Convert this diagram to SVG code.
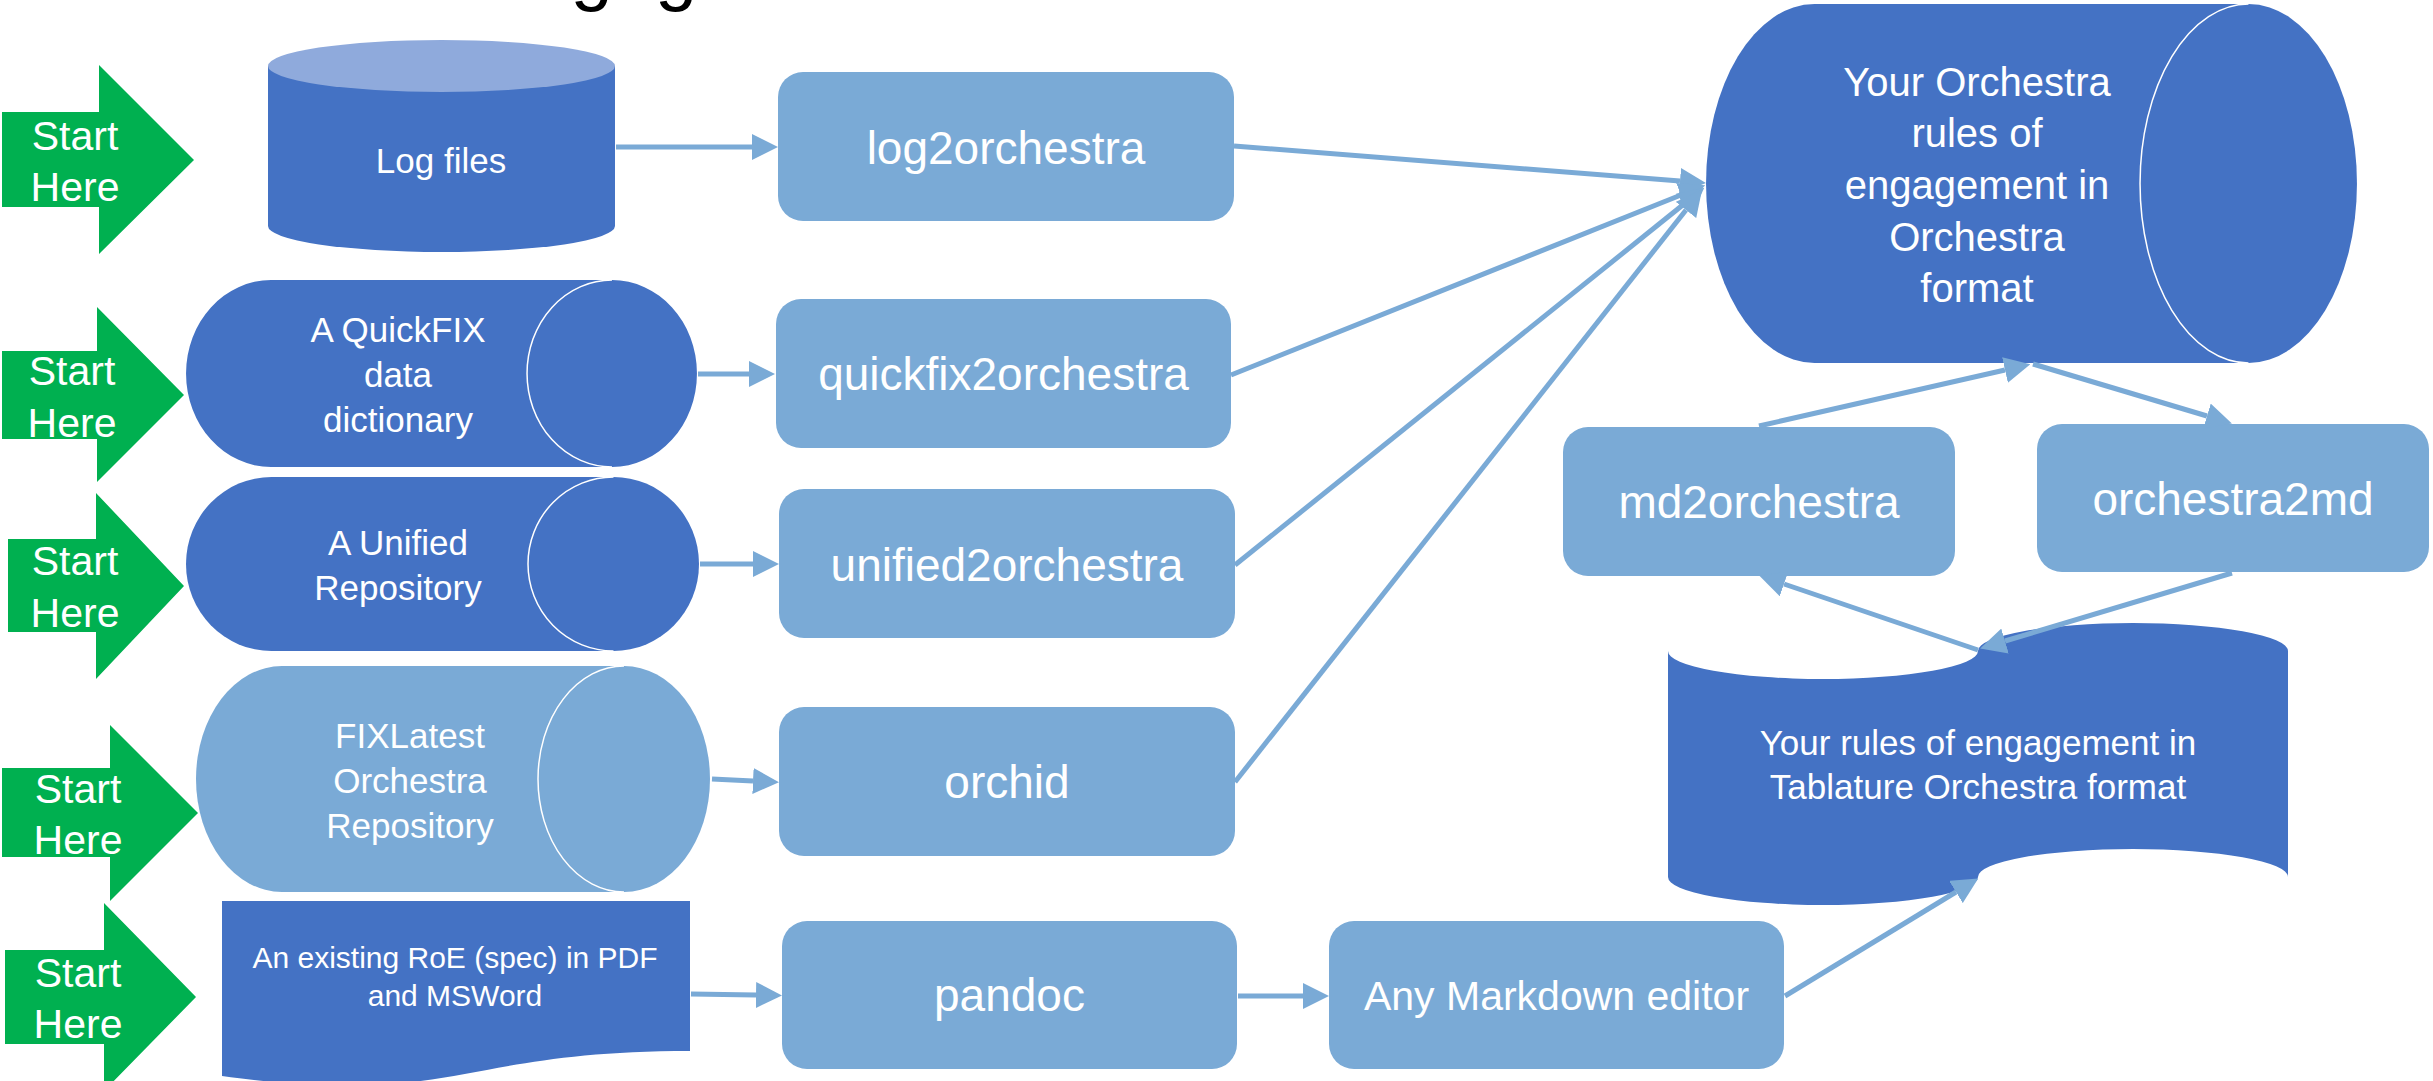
<svg xmlns="http://www.w3.org/2000/svg" width="2433" height="1081" viewBox="0 0 2433 1081">
<style>
.bg{fill:#ffffff}
.start{fill:#00B050}
.dark{fill:#4472C4}
.light{fill:#7AAAD6}
.topcap{fill:#8FAADC}
.face{fill:none;stroke:#ffffff;stroke-width:1.5}
.t{font-family:"Liberation Sans",Arial,Helvetica,sans-serif;fill:#ffffff;text-anchor:middle}
.st{font-size:41px}
.s35{font-size:35px}
.s30{font-size:30px}
.s40{font-size:40px}
.s46{font-size:46px}
.s41{font-size:41px}
.title{font-family:"Liberation Sans",Arial,Helvetica,sans-serif;font-size:76px;fill:#000000}
.conn{fill:none;stroke:#7AAAD6;stroke-width:5;stroke-linecap:butt}
</style>
<defs>
<marker id="ah" markerUnits="userSpaceOnUse" markerWidth="26" markerHeight="26" refX="0" refY="13" orient="auto">
<path d="M0,0 L26,13 L0,26 Z" fill="#7AAAD6"/>
</marker>
</defs>
<rect class="bg" x="0" y="0" width="2433" height="1081"/>
<text class="title" x="486" y="-4">engagement</text>

<g id="start1"><polygon class="start" points="2,112 99,112 99,65 194,160 99,254 99,207 2,207"/><text class="t st" x="75" y="150">Start</text><text class="t st" x="75" y="201">Here</text></g>
<g id="start2"><polygon class="start" points="2,351 97,351 97,307 184,395 97,482 97,439 2,439"/><text class="t st" x="72" y="385">Start</text><text class="t st" x="72" y="437">Here</text></g>
<g id="start3"><polygon class="start" points="8,539 96,539 96,493 184,586 96,679 96,632 8,632"/><text class="t st" x="75" y="575">Start</text><text class="t st" x="75" y="627">Here</text></g>
<g id="start4"><polygon class="start" points="2,768 110,768 110,725 198,813 110,901 110,857 2,857"/><text class="t st" x="78" y="803">Start</text><text class="t st" x="78" y="854">Here</text></g>
<g id="start5"><polygon class="start" points="5,950 104,950 104,903 196,997 104,1091 104,1044 5,1044"/><text class="t st" x="78" y="987">Start</text><text class="t st" x="78" y="1038">Here</text></g>

<g id="logfiles">
<path class="dark" d="M268,66 V226 A173.5,26 0 0 0 615,226 V66 Z"/>
<ellipse class="topcap" cx="441.5" cy="66" rx="173.5" ry="26"/>
<text class="t s35" x="441" y="173">Log files</text>
</g>

<g id="quickfix">
<path class="dark" d="M271,280 H612 A85,93.5 0 0 1 612,467 H271 A85,93.5 0 0 1 271,280 Z"/>
<path class="face" d="M612,280 A85,93.5 0 0 0 612,467"/>
<text class="t s35" x="398" y="342">A QuickFIX</text>
<text class="t s35" x="398" y="387">data</text>
<text class="t s35" x="398" y="432">dictionary</text>
</g>

<g id="unified">
<path class="dark" d="M271.5,477 H613.5 A85.5,87 0 0 1 613.5,651 H271.5 A85.5,87 0 0 1 271.5,477 Z"/>
<path class="face" d="M613.5,477 A85.5,87 0 0 0 613.5,651"/>
<text class="t s35" x="398" y="555">A Unified</text>
<text class="t s35" x="398" y="600">Repository</text>
</g>

<g id="fixlatest">
<path class="light" d="M282,666 H624 A86,113 0 0 1 624,892 H282 A86,113 0 0 1 282,666 Z"/>
<path class="face" d="M624,666 A86,113 0 0 0 624,892"/>
<text class="t s35" x="410" y="748">FIXLatest</text>
<text class="t s35" x="410" y="793">Orchestra</text>
<text class="t s35" x="410" y="838">Repository</text>
</g>

<g id="existingroe">
<path class="dark" d="M222,901 H690 V1051 C456,1051 456,1108 222,1076 Z"/>
<text class="t s30" x="455" y="968">An existing RoE (spec) in PDF</text>
<text class="t s30" x="455" y="1006">and MSWord</text>
</g>

<g id="log2orchestra"><rect class="light" x="778" y="72" width="456" height="149" rx="25" ry="25"/><text class="t s46" x="1006" y="164">log2orchestra</text></g>
<g id="quickfix2orchestra"><rect class="light" x="776" y="299" width="455" height="149" rx="25" ry="25"/><text class="t s46" x="1003.5" y="390">quickfix2orchestra</text></g>
<g id="unified2orchestra"><rect class="light" x="779" y="489" width="456" height="149" rx="25" ry="25"/><text class="t s46" x="1007" y="581">unified2orchestra</text></g>
<g id="orchid"><rect class="light" x="779" y="707" width="456" height="149" rx="25" ry="25"/><text class="t s46" x="1007" y="798">orchid</text></g>
<g id="pandoc"><rect class="light" x="782" y="921" width="455" height="148" rx="25" ry="25"/><text class="t s46" x="1009.5" y="1011">pandoc</text></g>
<g id="mdeditor"><rect class="light" x="1329" y="921" width="455" height="148" rx="25" ry="25"/><text class="t s41" x="1556.5" y="1010">Any Markdown editor</text></g>
<g id="md2orchestra"><rect class="light" x="1563" y="427" width="392" height="149" rx="25" ry="25"/><text class="t s46" x="1759" y="518">md2orchestra</text></g>
<g id="orchestra2md"><rect class="light" x="2037" y="424" width="392" height="148" rx="25" ry="25"/><text class="t s46" x="2233" y="515">orchestra2md</text></g>

<g id="orchestrarules">
<path class="dark" d="M1814.5,4 H2248.5 A108.5,179.5 0 0 1 2248.5,363 H1814.5 A108.5,179.5 0 0 1 1814.5,4 Z"/>
<path class="face" d="M2248.5,4 A108.5,179.5 0 0 0 2248.5,363"/>
<text class="t s40" x="1977" y="96">Your Orchestra</text>
<text class="t s40" x="1977" y="147">rules of</text>
<text class="t s40" x="1977" y="199">engagement in</text>
<text class="t s40" x="1977" y="251">Orchestra</text>
<text class="t s40" x="1977" y="302">format</text>
</g>

<g id="tablature">
<path class="dark" d="M1668,651 A155,28 0 0 0 1978,651 A155,28 0 0 1 2288,651 V877 A155,28 0 0 0 1978,877 A155,28 0 0 1 1668,877 Z"/>
<text class="t s35" x="1978" y="755">Your rules of engagement in</text>
<text class="t s35" x="1978" y="799">Tablature Orchestra format</text>
</g>

<g id="connectors">
<path class="conn" marker-end="url(#ah)" d="M616,147 L752,147"/>
<path class="conn" marker-end="url(#ah)" d="M698,374 L749,374"/>
<path class="conn" marker-end="url(#ah)" d="M700,564 L753,564"/>
<path class="conn" marker-end="url(#ah)" d="M712,779 L753,781"/>
<path class="conn" marker-end="url(#ah)" d="M691,994 L756,995"/>
<path class="conn" marker-end="url(#ah)" d="M1238,996 L1303,996"/>
<path class="conn" marker-end="url(#ah)" d="M1234,146 L1680,181"/>
<path class="conn" marker-end="url(#ah)" d="M1231,375 L1681,195"/>
<path class="conn" marker-end="url(#ah)" d="M1235,565 L1684,204"/>
<path class="conn" marker-end="url(#ah)" d="M1235,782 L1686,210"/>
<path class="conn" marker-end="url(#ah)" d="M1759,426 L2005,370"/>
<path class="conn" marker-end="url(#ah)" d="M2033,364 L2207,416"/>
<path class="conn" marker-end="url(#ah)" d="M1978,650 L1784,584"/>
<path class="conn" marker-end="url(#ah)" d="M2232,573 L2005,641"/>
<path class="conn" marker-end="url(#ah)" d="M1785,996 L1956,892"/>
</g>
</svg>
